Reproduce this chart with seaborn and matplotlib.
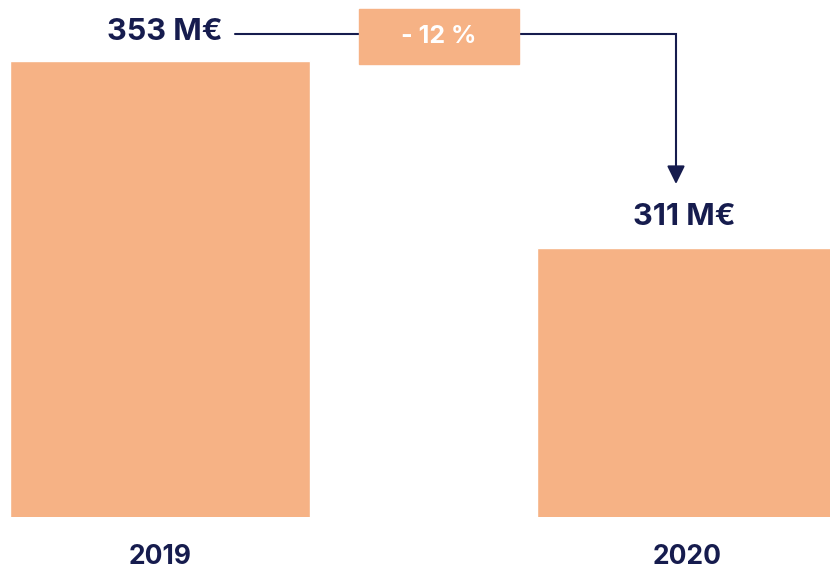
import matplotlib
matplotlib.use("Agg")
from matplotlib import pyplot as plt
from matplotlib.patches import Rectangle
import pandas as pd
import seaborn as sns

years = ["2019", "2020"]
revenue = [353, 311]
value_labels = ["353 M€", "311 M€"]
change_label = "- 12 %"

BAR = "#f6b285"
NAVY = "#161c4e"

sns.set_theme(style="white")
plt.rcParams["font.family"] = ["Inter", "DejaVu Sans"]

df = pd.DataFrame({"year": years, "revenue": revenue})

fig = plt.figure(figsize=(8.3, 5.69), dpi=100)
ax = fig.add_axes([0, 52 / 569, 1, 517 / 569])

PX = 527.0  # pixels per category step

sns.barplot(data=df, x="year", y="revenue", color=BAR, saturation=1,
            width=300 / PX, ax=ax)

# axis doesn't start at zero in the original
ax.set_ylim(250.5, 250.5 + 517 / 4.449)
ax.set_xlim(-160 / PX, 670 / PX)
sns.despine(ax=ax, left=True, bottom=True)
ax.set_xlabel("")
ax.set_ylabel("")
ax.set_yticks([])
ax.set_xticks([])

# value labels above bars
ax.annotate(value_labels[0], (0, revenue[0]), xytext=(3.5, 21), textcoords="offset points",
            ha="center", va="center", fontsize=22, fontweight="bold", color=NAVY)
ax.annotate(value_labels[1], (1, revenue[1]), xytext=(-2, 22.5), textcoords="offset points",
            ha="center", va="center", fontsize=22, fontweight="bold", color=NAVY)

# year labels below axes
for i, y in enumerate(years):
    ax.text(i, -0.077, y, transform=ax.get_xaxis_transform(),
            ha="center", va="center", fontsize=19, fontweight="bold", color=NAVY)

# elbow connector from first label to second bar
line_y = revenue[0] + (61 - 34) / 4.449
x_start = 75 / PX
x_end = 516 / PX
tip_y = revenue[1] + (248 - 187) / 4.449
ax.plot([x_start, x_end, x_end], [line_y, line_y, tip_y + 2], color=NAVY, lw=1.5,
        solid_joinstyle="miter", zorder=3)
ax.annotate("", xy=(x_end, tip_y), xytext=(x_end, tip_y + 4),
            arrowprops=dict(arrowstyle="-|>,head_length=0.55,head_width=0.27",
                            color=NAVY, lw=1.5, mutation_scale=20), zorder=4)

# change box
bx = 279 / PX
bw = 160 / PX
bh = 55 / 4.449
by = revenue[0] + (61 - 36.5) / 4.449
ax.add_patch(Rectangle((bx - bw / 2, by - bh / 2), bw, bh, color=BAR, zorder=5))
ax.text(bx, by, change_label, ha="center", va="center", fontsize=18,
        fontweight="bold", color="white", zorder=6)

fig.savefig("out.png", dpi=100)
